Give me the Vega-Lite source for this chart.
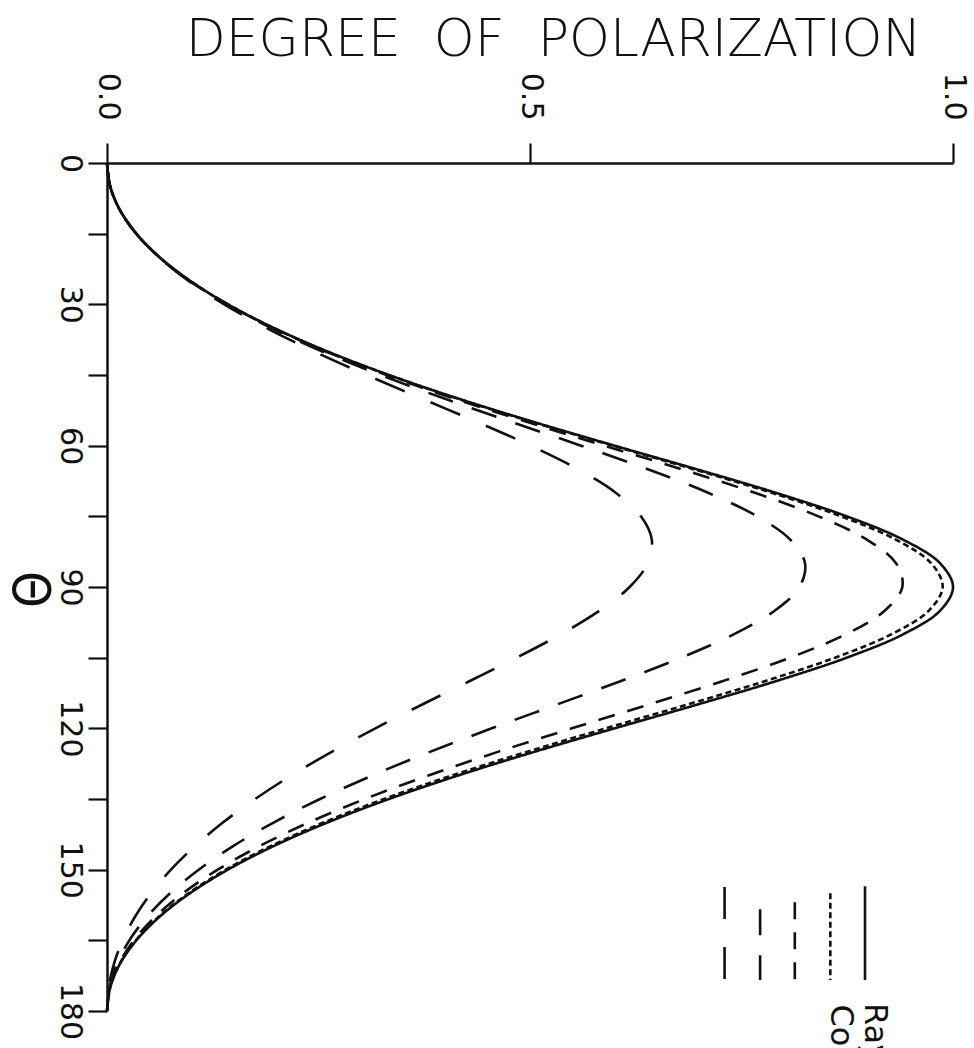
{
  "$schema": "https://vega.github.io/schema/vega-lite/v6.json",
  "autosize": {"type": "none"},
  "padding": {"left": 107, "top": 163, "right": 21, "bottom": 37},
  "width": 846,
  "height": 848,
  "background": "white",
  "config": {
    "view": {"stroke": null},
    "axis": {
      "grid": false,
      "domainColor": "#111",
      "domainWidth": 2.5,
      "tickColor": "#111",
      "tickWidth": 2.2,
      "labelColor": "#111",
      "titleColor": "#111",
      "labelFont": "DejaVu Sans",
      "titleFont": "DejaVu Sans",
      "labelFontWeight": "normal",
      "titleFontWeight": "normal",
      "labelOverlap": false,
      "labelFlush": false,
      "labelBound": false
    }
  },
  "datasets": {
    "curves": [
      {"s":"ray","t":0,"p":0},{"s":"ray","t":5,"p":0.0038},{"s":"ray","t":10,"p":0.0153},{"s":"ray","t":15,"p":0.0347},{"s":"ray","t":20,"p":0.0621},{"s":"ray","t":25,"p":0.0981},{"s":"ray","t":30,"p":0.1429},{"s":"ray","t":35,"p":0.1969},{"s":"ray","t":40,"p":0.2604},{"s":"ray","t":45,"p":0.3333},{"s":"ray","t":50,"p":0.4152},{"s":"ray","t":55,"p":0.5049},{"s":"ray","t":60,"p":0.6},{"s":"ray","t":65,"p":0.6969},{"s":"ray","t":70,"p":0.7905},{"s":"ray","t":75,"p":0.8744},{"s":"ray","t":80,"p":0.9415},{"s":"ray","t":85,"p":0.9849},{"s":"ray","t":90,"p":1.0},{"s":"ray","t":95,"p":0.9849},{"s":"ray","t":100,"p":0.9415},{"s":"ray","t":105,"p":0.8744},{"s":"ray","t":110,"p":0.7905},{"s":"ray","t":115,"p":0.6969},{"s":"ray","t":120,"p":0.6},{"s":"ray","t":125,"p":0.5049},{"s":"ray","t":130,"p":0.4152},{"s":"ray","t":135,"p":0.3333},{"s":"ray","t":140,"p":0.2604},{"s":"ray","t":145,"p":0.1969},{"s":"ray","t":150,"p":0.1429},{"s":"ray","t":155,"p":0.0981},{"s":"ray","t":160,"p":0.0621},{"s":"ray","t":165,"p":0.0347},{"s":"ray","t":170,"p":0.0153},{"s":"ray","t":175,"p":0.0038},{"s":"ray","t":180,"p":0},

      {"s":"c1","t":0,"p":0},{"s":"c1","t":5,"p":0.0038},{"s":"c1","t":10,"p":0.0153},{"s":"c1","t":15,"p":0.0347},{"s":"c1","t":20,"p":0.0621},{"s":"c1","t":25,"p":0.098},{"s":"c1","t":30,"p":0.1428},{"s":"c1","t":35,"p":0.1967},{"s":"c1","t":40,"p":0.2601},{"s":"c1","t":45,"p":0.3328},{"s":"c1","t":50,"p":0.4143},{"s":"c1","t":55,"p":0.5034},{"s":"c1","t":60,"p":0.5976},{"s":"c1","t":65,"p":0.6934},{"s":"c1","t":70,"p":0.7856},{"s":"c1","t":75,"p":0.8678},{"s":"c1","t":80,"p":0.9329},{"s":"c1","t":85,"p":0.9744},{"s":"c1","t":90,"p":0.9878},{"s":"c1","t":95,"p":0.9715},{"s":"c1","t":100,"p":0.9275},{"s":"c1","t":105,"p":0.8606},{"s":"c1","t":110,"p":0.7774},{"s":"c1","t":115,"p":0.685},{"s":"c1","t":120,"p":0.5895},{"s":"c1","t":125,"p":0.496},{"s":"c1","t":130,"p":0.4079},{"s":"c1","t":135,"p":0.3274},{"s":"c1","t":140,"p":0.2558},{"s":"c1","t":145,"p":0.1934},{"s":"c1","t":150,"p":0.1404},{"s":"c1","t":155,"p":0.0964},{"s":"c1","t":160,"p":0.0611},{"s":"c1","t":165,"p":0.0341},{"s":"c1","t":170,"p":0.015},{"s":"c1","t":175,"p":0.0038},{"s":"c1","t":180,"p":0},

      {"s":"c2","t":0,"p":0},{"s":"c2","t":5,"p":0.0038},{"s":"c2","t":10,"p":0.0153},{"s":"c2","t":15,"p":0.0346},{"s":"c2","t":20,"p":0.062},{"s":"c2","t":25,"p":0.0979},{"s":"c2","t":30,"p":0.1424},{"s":"c2","t":35,"p":0.196},{"s":"c2","t":40,"p":0.2587},{"s":"c2","t":45,"p":0.3304},{"s":"c2","t":50,"p":0.4103},{"s":"c2","t":55,"p":0.4971},{"s":"c2","t":60,"p":0.588},{"s":"c2","t":65,"p":0.6793},{"s":"c2","t":70,"p":0.7657},{"s":"c2","t":75,"p":0.841},{"s":"c2","t":80,"p":0.8987},{"s":"c2","t":85,"p":0.9329},{"s":"c2","t":90,"p":0.9401},{"s":"c2","t":95,"p":0.9195},{"s":"c2","t":100,"p":0.8736},{"s":"c2","t":105,"p":0.8074},{"s":"c2","t":110,"p":0.7272},{"s":"c2","t":115,"p":0.6394},{"s":"c2","t":120,"p":0.5495},{"s":"c2","t":125,"p":0.462},{"s":"c2","t":130,"p":0.3799},{"s":"c2","t":135,"p":0.3049},{"s":"c2","t":140,"p":0.2383},{"s":"c2","t":145,"p":0.1803},{"s":"c2","t":150,"p":0.1309},{"s":"c2","t":155,"p":0.0899},{"s":"c2","t":160,"p":0.057},{"s":"c2","t":165,"p":0.0318},{"s":"c2","t":170,"p":0.0141},{"s":"c2","t":175,"p":0.0035},{"s":"c2","t":180,"p":0},

      {"s":"c3","t":0,"p":0},{"s":"c3","t":5,"p":0.0038},{"s":"c3","t":10,"p":0.0153},{"s":"c3","t":15,"p":0.0346},{"s":"c3","t":20,"p":0.0619},{"s":"c3","t":25,"p":0.0974},{"s":"c3","t":30,"p":0.1413},{"s":"c3","t":35,"p":0.1938},{"s":"c3","t":40,"p":0.2546},{"s":"c3","t":45,"p":0.3233},{"s":"c3","t":50,"p":0.3987},{"s":"c3","t":55,"p":0.4787},{"s":"c3","t":60,"p":0.5603},{"s":"c3","t":65,"p":0.6393},{"s":"c3","t":70,"p":0.7105},{"s":"c3","t":75,"p":0.7684},{"s":"c3","t":80,"p":0.8079},{"s":"c3","t":85,"p":0.8251},{"s":"c3","t":90,"p":0.8186},{"s":"c3","t":95,"p":0.7895},{"s":"c3","t":100,"p":0.7413},{"s":"c3","t":105,"p":0.6786},{"s":"c3","t":110,"p":0.6068},{"s":"c3","t":115,"p":0.5309},{"s":"c3","t":120,"p":0.4548},{"s":"c3","t":125,"p":0.3817},{"s":"c3","t":130,"p":0.3136},{"s":"c3","t":135,"p":0.2518},{"s":"c3","t":140,"p":0.1969},{"s":"c3","t":145,"p":0.1491},{"s":"c3","t":150,"p":0.1084},{"s":"c3","t":155,"p":0.0745},{"s":"c3","t":160,"p":0.0473},{"s":"c3","t":165,"p":0.0264},{"s":"c3","t":170,"p":0.0117},{"s":"c3","t":175,"p":0.0029},{"s":"c3","t":180,"p":0},

      {"s":"c4","t":0,"p":0},{"s":"c4","t":5,"p":0.0038},{"s":"c4","t":10,"p":0.0153},{"s":"c4","t":15,"p":0.0344},{"s":"c4","t":20,"p":0.0614},{"s":"c4","t":25,"p":0.0961},{"s":"c4","t":30,"p":0.1386},{"s":"c4","t":35,"p":0.1884},{"s":"c4","t":40,"p":0.2449},{"s":"c4","t":45,"p":0.3068},{"s":"c4","t":50,"p":0.372},{"s":"c4","t":55,"p":0.4379},{"s":"c4","t":60,"p":0.5008},{"s":"c4","t":65,"p":0.5567},{"s":"c4","t":70,"p":0.6013},{"s":"c4","t":75,"p":0.6312},{"s":"c4","t":80,"p":0.644},{"s":"c4","t":85,"p":0.6391},{"s":"c4","t":90,"p":0.6177},{"s":"c4","t":95,"p":0.5824},{"s":"c4","t":100,"p":0.5367},{"s":"c4","t":105,"p":0.4842},{"s":"c4","t":110,"p":0.4283},{"s":"c4","t":115,"p":0.372},{"s":"c4","t":120,"p":0.3172},{"s":"c4","t":125,"p":0.2656},{"s":"c4","t":130,"p":0.218},{"s":"c4","t":135,"p":0.1751},{"s":"c4","t":140,"p":0.137},{"s":"c4","t":145,"p":0.1039},{"s":"c4","t":150,"p":0.0756},{"s":"c4","t":155,"p":0.0521},{"s":"c4","t":160,"p":0.0331},{"s":"c4","t":165,"p":0.0185},{"s":"c4","t":170,"p":0.0082},{"s":"c4","t":175,"p":0.002},{"s":"c4","t":180,"p":0}
    ],
    "keyLines": [
      {"s":"ray","p":0.896,"t1":153.5,"t2":173.4},
      {"s":"c1","p":0.855,"t1":155.0,"t2":173.4},
      {"s":"c2","p":0.813,"t1":156.9,"t2":173.4},
      {"s":"c3","p":0.772,"t1":158.4,"t2":173.4},
      {"s":"c4","p":0.730,"t1":153.7,"t2":173.4}
    ],
    "keyLabels": [
      {"label":"Rayleigh","p":0.908,"t":178.3},
      {"label":"Composite","p":0.868,"t":178.6}
    ]
  },
  "layer": [
    {
      "data": {"name": "curves"},
      "mark": {"type": "line", "interpolate": "catmull-rom", "strokeWidth": 2.6, "color": "#111", "strokeCap": "butt"},
      "encoding": {
        "x": {
          "field": "p", "type": "quantitative",
          "scale": {"domain": [0, 1], "nice": false, "zero": false},
          "axis": {
            "orient": "top",
            "values": [0, 0.5, 1],
            "format": ".1f",
            "labelAngle": 90,
            "labelAlign": "right",
            "labelBaseline": "middle",
            "labelFontSize": 30,
            "labelPadding": 23,
            "tickSize": 20,
            "title": "DEGREE\u00a0\u00a0OF\u00a0\u00a0POLARIZATION",
            "titleFontSize": 52,
            "titleFontWeight": 200,
            "titleAngle": 0,
            "titleAlign": "center",
            "titleBaseline": "middle",
            "titleAnchor": null,
            "titleX": 446,
            "titleY": -124
          }
        },
        "y": {
          "field": "t", "type": "quantitative",
          "scale": {"domain": [0, 180], "nice": false, "zero": false, "reverse": true},
          "axis": {
            "orient": "left",
            "values": [0, 15, 30, 45, 60, 75, 90, 105, 120, 135, 150, 165, 180],
            "labelExpr": "datum.value % 30 === 0 ? datum.label : ''",
            "labelAngle": 90,
            "labelAlign": "center",
            "labelBaseline": "top",
            "labelFontSize": 30,
            "labelPadding": 4,
            "tickSize": 19,
            "title": "Θ",
            "titleFont": "DejaVu Sans Condensed",
            "titleFontSize": 52,
            "titleFontWeight": 300,
            "titleAngle": 90,
            "titleAlign": "center",
            "titleBaseline": "middle",
            "titleAnchor": null,
            "titleX": -79,
            "titleY": 426
          }
        },
        "strokeDash": {
          "field": "s", "type": "nominal", "legend": null,
          "scale": {
            "domain": ["ray", "c1", "c2", "c3", "c4"],
            "range": [[1, 0], [6, 3.5], [17, 13], [26, 20], [32, 28]]
          }
        },
        "order": {"field": "t", "type": "quantitative"}
      }
    },
    {
      "data": {"name": "keyLines"},
      "mark": {"type": "rule", "strokeWidth": 2.6, "color": "#111", "strokeCap": "butt"},
      "encoding": {
        "x": {"field": "p", "type": "quantitative"},
        "y": {"field": "t1", "type": "quantitative"},
        "y2": {"field": "t2"},
        "strokeDash": {"field": "s", "type": "nominal", "legend": null}
      }
    },
    {
      "data": {"name": "keyLabels"},
      "mark": {"type": "text", "angle": 90, "align": "left", "baseline": "middle", "fontSize": 32, "font": "DejaVu Sans", "color": "#111"},
      "encoding": {
        "x": {"field": "p", "type": "quantitative"},
        "y": {"field": "t", "type": "quantitative"},
        "text": {"field": "label"}
      }
    }
  ]
}
